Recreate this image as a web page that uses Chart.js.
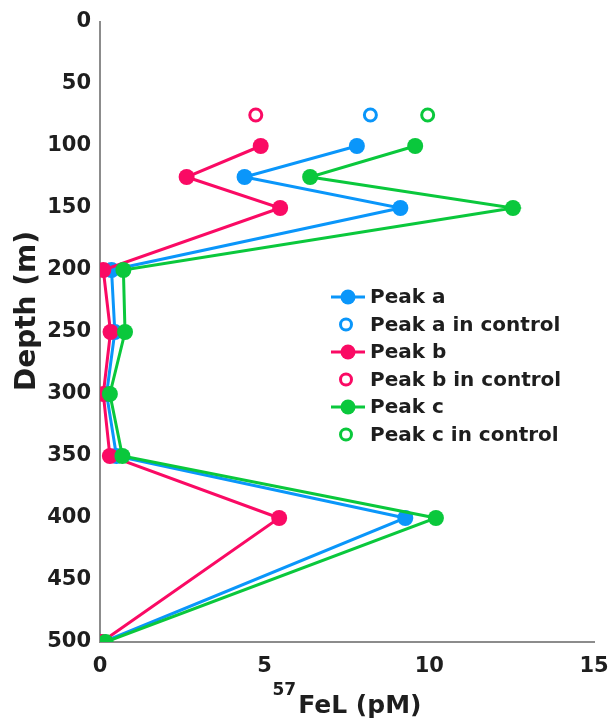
<!DOCTYPE html>
<html>
<head>
<meta charset="utf-8">
<script src="https://cdn.jsdelivr.net/npm/chart.js@4.4.1/dist/chart.umd.min.js"></script>
<style>
  html, body { margin: 0; padding: 0; background: #ffffff; }
  #wrap { width: 608px; height: 719px; position: relative; }
</style>
</head>
<body>
<div id="wrap"><canvas id="c" width="608" height="719"></canvas></div>
<script>
// Sampling depths (m) and 57FeL concentrations (pM) for each peak
const depths = [100, 125, 150, 200, 250, 300, 350, 400, 500];
const peakA = [7.80, 4.39, 9.12, 0.35, 0.45, 0.20, 0.50, 9.27, 0.10];
const peakB = [4.88, 2.63, 5.47, 0.10, 0.32, 0.10, 0.30, 5.44, 0.05];
const peakC = [9.57, 6.38, 12.54, 0.71, 0.76, 0.30, 0.68, 10.20, 0.17];

// Control incubation (single depth)
const controlDepth = [75];
const controlA = [8.21];
const controlB = [4.73];
const controlC = [9.95];

const xTicks = [0, 5, 10, 15];
const yTicks = [0, 50, 100, 150, 200, 250, 300, 350, 400, 450, 500];

const seriesLabels = ['Peak a', 'Peak a in control', 'Peak b', 'Peak b in control', 'Peak c', 'Peak c in control'];

const BLUE = '#0a96fa';
const PINK = '#fa0a64';
const GREEN = '#0ac83c';
const TEXT = '#1e1e1e';
const FONT = '"DejaVu Sans", sans-serif';

function pts(xs, ys) { return xs.map((x, i) => ({ x: x, y: ys[i] })); }

function lineSet(label, xs, color, order) {
  return {
    label: label, data: pts(xs, depths), showLine: true,
    borderColor: color, backgroundColor: color, borderWidth: 3,
    pointRadius: 8, pointHoverRadius: 8, pointBorderWidth: 0,
    pointBackgroundColor: color, order: order
  };
}
function ctrlSet(label, xs, color) {
  return {
    label: label, data: pts(xs, controlDepth), showLine: false,
    borderColor: color, backgroundColor: '#ffffff',
    pointRadius: 6, pointHoverRadius: 6, pointBorderWidth: 3,
    pointBackgroundColor: '#ffffff', pointBorderColor: color, order: 0
  };
}

const datasets = [
  lineSet(seriesLabels[0], peakA, BLUE, 3),
  ctrlSet(seriesLabels[1], controlA, BLUE),
  lineSet(seriesLabels[2], peakB, PINK, 2),
  ctrlSet(seriesLabels[3], controlB, PINK),
  lineSet(seriesLabels[4], peakC, GREEN, 1),
  ctrlSet(seriesLabels[5], controlC, GREEN)
];

// Legend drawn inside the plot area, and axis titles (x title has a superscript)
const decorations = {
  id: 'decorations',
  afterDraw(chart) {
    const ctx = chart.ctx;
    ctx.save();
    // legend
    const lx = 331, rowTop = 297, rowGap = 27.5;
    datasets.forEach((ds, i) => {
      const y = rowTop + i * rowGap;
      const col = ds.pointBorderWidth ? ds.pointBorderColor : ds.borderColor;
      if (ds.showLine) {
        ctx.strokeStyle = col; ctx.lineWidth = 3;
        ctx.beginPath(); ctx.moveTo(lx, y); ctx.lineTo(lx + 34, y); ctx.stroke();
        ctx.fillStyle = col;
        ctx.beginPath(); ctx.arc(lx + 17, y, 7.5, 0, Math.PI * 2); ctx.fill();
      } else {
        ctx.strokeStyle = col; ctx.lineWidth = 3; ctx.fillStyle = '#ffffff';
        ctx.beginPath(); ctx.arc(lx + 15, y, 5.5, 0, Math.PI * 2); ctx.fill(); ctx.stroke();
      }
      ctx.fillStyle = TEXT;
      ctx.font = 'bold 20px ' + FONT;
      ctx.textAlign = 'left'; ctx.textBaseline = 'middle';
      ctx.fillText(ds.label, lx + 39, y + 1);
    });

    // y title
    ctx.fillStyle = TEXT;
    ctx.font = 'bold 28px ' + FONT;
    ctx.translate(28, 311);
    ctx.rotate(-Math.PI / 2);
    ctx.textAlign = 'center'; ctx.textBaseline = 'middle';
    ctx.fillText('Depth (m)', 0, 0);
    ctx.restore();

    // x title: superscript mass number followed by the species name
    ctx.save();
    ctx.fillStyle = TEXT;
    ctx.textAlign = 'left'; ctx.textBaseline = 'alphabetic';
    ctx.font = 'bold 17px ' + FONT;
    const sup = '57';
    const supW = ctx.measureText(sup).width;
    ctx.font = 'bold 25px ' + FONT;
    const main = 'FeL (pM)';
    const mainW = ctx.measureText(main).width;
    const total = supW + 2 + mainW;
    const x0 = 347 - total / 2;
    ctx.font = 'bold 17px ' + FONT;
    ctx.fillText(sup, x0, 695);
    ctx.font = 'bold 25px ' + FONT;
    ctx.fillText(main, x0 + supW + 2, 713);
    ctx.restore();
  }
};

new Chart(document.getElementById('c'), {
  type: 'scatter',
  data: { datasets: datasets },
  options: {
    responsive: false,
    animation: false,
    layout: { padding: { top: 22, right: 14, left: 0, bottom: 0 } },
    plugins: { legend: { display: false }, tooltip: { enabled: false } },
    scales: {
      x: {
        type: 'linear', min: 0, max: 15,
        afterBuildTicks(scale) { scale.ticks = xTicks.map(v => ({ value: v })); },
        afterFit(scale) { scale.height = 77; scale.paddingLeft = 0; scale.paddingRight = 0; },
        grid: { display: false, drawTicks: false },
        border: { display: true, color: '#8c8c8c', width: 2 },
        ticks: { padding: 12, color: TEXT, font: { family: FONT, size: 21, weight: 'bold' } }
      },
      y: {
        type: 'linear', min: 0, max: 500, reverse: true,
        afterBuildTicks(scale) { scale.ticks = yTicks.map(v => ({ value: v })); },
        afterFit(scale) { scale.width = 100; scale.paddingTop = 0; scale.paddingBottom = 0; },
        grid: { display: false, drawTicks: false },
        border: { display: true, color: '#8c8c8c', width: 2 },
        ticks: { padding: 9, color: TEXT, font: { family: FONT, size: 21, weight: 'bold' } }
      }
    }
  },
  plugins: [decorations]
});
</script>
</body>
</html>
